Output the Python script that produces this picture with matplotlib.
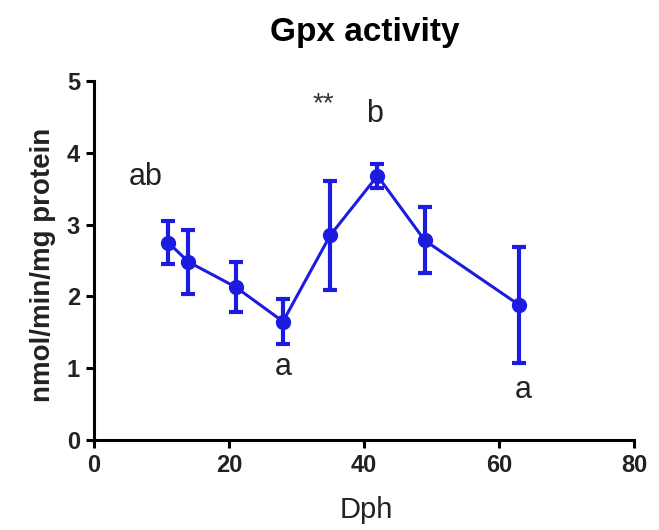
import matplotlib
matplotlib.use("Agg")
import matplotlib.pyplot as plt

plt.rcParams['font.family'] = ['Liberation Sans', 'DejaVu Sans']

# data
dph = [11, 14, 21, 28, 35, 42, 49, 63]
gpx = [2.75, 2.48, 2.13, 1.65, 2.85, 3.68, 2.78, 1.88]
sem = [0.30, 0.44, 0.35, 0.31, 0.76, 0.17, 0.46, 0.81]

# significance letters (baseline positions in data units)
labels = ["ab", "a", "b", "a"]
label_x = [7.6, 28, 41.5, 63.6]
label_y = [3.55, 0.9, 4.43, 0.59]
stars_x, stars_y = 33.9, 4.68

blue = "#1c1ce0"

fig = plt.figure(figsize=(6.59, 5.30), dpi=100)
ax = fig.add_axes([0.1426, 0.1698, 0.8194, 0.6774])

ax.errorbar(dph, gpx, yerr=sem, color=blue, marker="o", markersize=10,
            linewidth=2.2, elinewidth=3, capsize=5, capthick=3, clip_on=False)

for t, x, y in zip(labels, label_x, label_y):
    ax.text(x, y, t, ha="center", va="baseline", fontsize=22, color="#222222")
ax.text(stars_x, stars_y, "**", ha="center", va="center", fontsize=20, color="#333333")

ax.set_xlim(0, 80)
ax.set_ylim(0, 5)
ax.set_xticks([0, 20, 40, 60, 80])
ax.set_yticks([0, 1, 2, 3, 4, 5])
ax.spines["top"].set_visible(False)
ax.spines["right"].set_visible(False)
for sp in ("left", "bottom"):
    ax.spines[sp].set_linewidth(2.2)
ax.tick_params(width=2.2, length=6, labelsize=17, pad=4)
for lb in ax.get_xticklabels() + ax.get_yticklabels():
    lb.set_fontweight("bold")
    lb.set_color("#222222")

fig.text(365 / 659, 1 - 32 / 530, "Gpx activity", ha="center", va="center",
         fontsize=24, fontweight="bold")
fig.text(366 / 659, 1 - 518 / 530, "Dph", ha="center", va="baseline",
         fontsize=21, color="#222222")
fig.text(43 / 659, 1 - 265 / 530, "nmol/min/mg protein", ha="center", va="center",
         rotation=90, fontsize=20, fontweight="bold", color="#222222")

fig.savefig("out.png", dpi=100)
